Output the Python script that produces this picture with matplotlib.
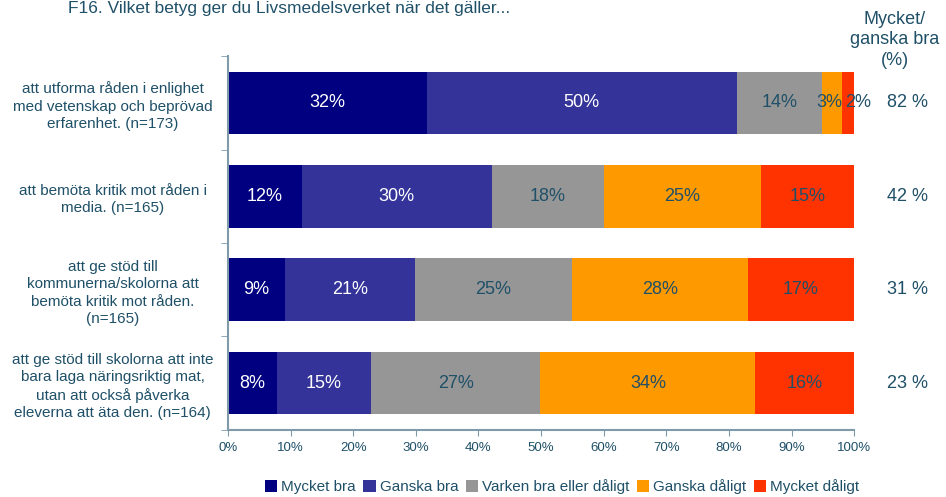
import matplotlib
matplotlib.use("Agg")
import matplotlib.pyplot as plt
import numpy as np

plt.rcParams['font.family'] = ['Liberation Sans', 'DejaVu Sans']

categories = [
    "att utforma råden i enlighet\nmed vetenskap och beprövad\nerfarenhet. (n=173)",
    "att bemöta kritik mot råden i\nmedia. (n=165)",
    "att ge stöd till\nkommunerna/skolorna att\nbemöta kritik mot råden.\n(n=165)",
    "att ge stöd till skolorna att inte\nbara laga näringsriktig mat,\nutan att också påverka\neleverna att äta den. (n=164)",
]
series_names = ["Mycket bra", "Ganska bra", "Varken bra eller dåligt", "Ganska dåligt", "Mycket dåligt"]
values = [
    [31.7, 11.8, 9.1, 7.8],    # Mycket bra
    [49.6, 30.3, 20.8, 15.1],  # Ganska bra
    [13.6, 17.9, 25.0, 27.0],  # Varken bra eller dåligt
    [3.2, 25.1, 28.1, 34.3],   # Ganska dåligt
    [1.9, 14.9, 17.0, 15.8],   # Mycket dåligt
]
labels = [
    ["32%", "12%", "9%", "8%"],
    ["50%", "30%", "21%", "15%"],
    ["14%", "18%", "25%", "27%"],
    ["3%", "25%", "28%", "34%"],
    ["2%", "15%", "17%", "16%"],
]
good_share = ["82 %", "42 %", "31 %", "23 %"]
xticks = [0, 10, 20, 30, 40, 50, 60, 70, 80, 90, 100]
xticklabels = [f"{t}%" for t in xticks]

colors = ["#000080", "#333399", "#969696", "#FF9900", "#FF3300"]
label_colors = ["white", "white", "#1F5068", "#1F5068", "#1F5068"]
text_color = "#1F5068"
axis_color = "#7F9BAA"

fig = plt.figure(figsize=(9.46, 4.97), dpi=100)
ax = fig.add_axes([0.241, 0.135, 0.662, 0.752])

y = np.arange(len(categories))
left = np.zeros(len(categories))
for i, name in enumerate(series_names):
    vals = np.array(values[i])
    ax.barh(y, vals, left=left, height=0.67, color=colors[i], label=name)
    for j, v in enumerate(vals):
        # narrow segments: nudge labels apart so they stay readable
        if v < 2.5:
            dx = 7
        elif v < 4:
            dx = -2
        else:
            dx = 0
        ax.annotate(labels[i][j], (left[j] + v / 2, y[j]), xytext=(dx, 0),
                    textcoords='offset points', ha='center', va='center',
                    fontsize=13, color=label_colors[i])
    left += vals

ax.set_xlim(0, 100)
ax.set_ylim(len(categories) - 0.5, -0.5)
ax.set_xticks(xticks)
ax.set_xticklabels(xticklabels, fontsize=9.5, color=text_color)
ax.set_yticks(y)
ax.set_yticklabels(categories, fontsize=11, color=text_color, ha='center',
                   multialignment='center', linespacing=1.32)
ax.tick_params(axis='y', length=0, pad=83)
ax.set_yticks(np.arange(-0.5, len(categories), 1), minor=True)
ax.tick_params(axis='y', which='minor', length=5, color=axis_color, direction='out')
ax.tick_params(axis='x', length=4, color=axis_color, direction='out', pad=5)

for s in ['top', 'right']:
    ax.spines[s].set_visible(False)
for s in ['left', 'bottom']:
    ax.spines[s].set_color(axis_color)
    ax.spines[s].set_linewidth(1.5)

for j, g in enumerate(good_share):
    ax.text(1.085, y[j], g, transform=ax.get_yaxis_transform(), ha='center', va='center',
            fontsize=13, color=text_color)

fig.text(895 / 946, 1 - 40 / 497, "Mycket/\nganska bra\n(%)", ha='center', va='center',
         fontsize=13, color=text_color, linespacing=1.3)
fig.text(68 / 946, 1 - 9 / 497, "F16. Vilket betyg ger du Livsmedelsverket när det gäller...",
         ha='left', va='center', fontsize=12.5, color=text_color)

leg = fig.legend(loc='center', bbox_to_anchor=(562 / 946, 1 - 487 / 497), ncol=5, frameon=False,
                 fontsize=11, handlelength=0.8, handleheight=0.8, handletextpad=0.25,
                 columnspacing=0.5)
for t in leg.get_texts():
    t.set_color(text_color)

fig.savefig("out.png", dpi=100)
